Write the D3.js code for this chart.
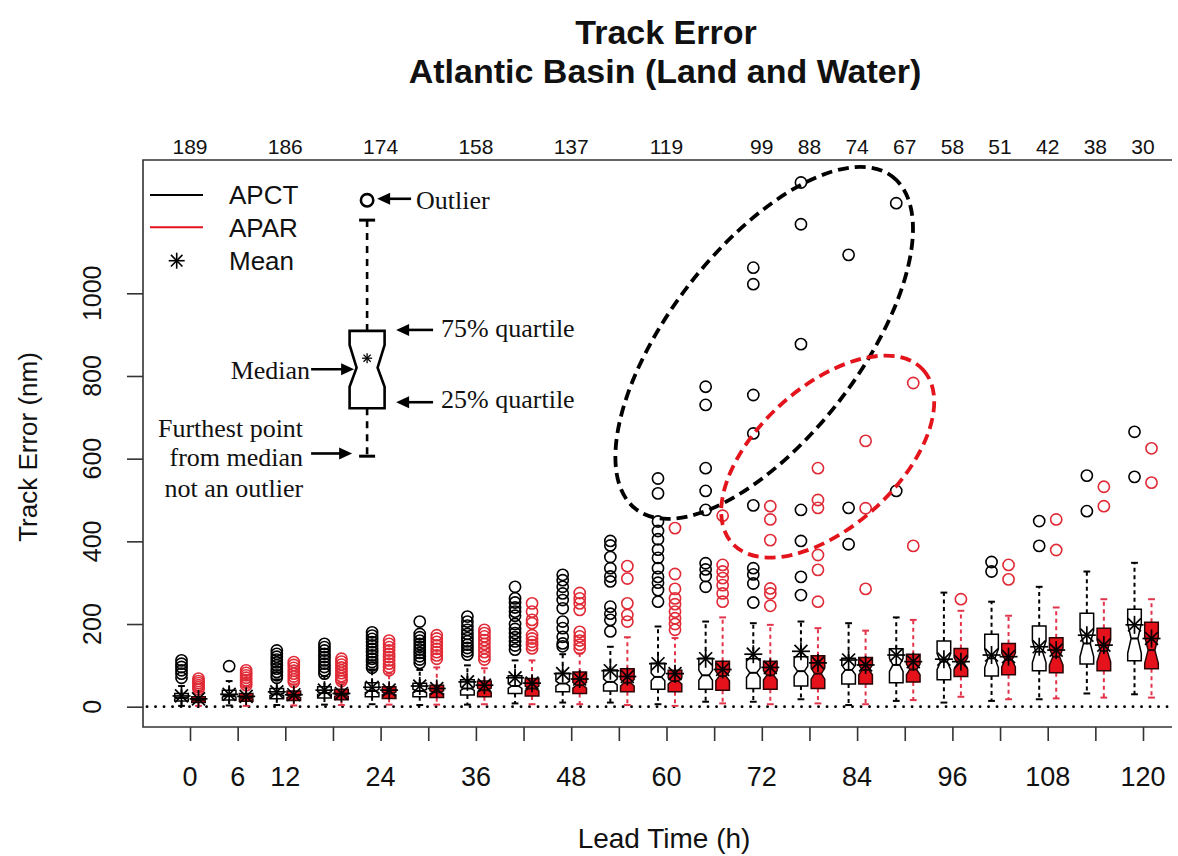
<!DOCTYPE html>
<html>
<head>
<meta charset="utf-8">
<script src="https://cdn.jsdelivr.net/npm/d3@7"></script>
<style>
  html, body { margin: 0; padding: 0; background: #fff; }
  svg { display: block; }
  text { font-family: "Liberation Sans", Arial, Helvetica, sans-serif; fill: #111; }
  text.serif { font-family: "Liberation Serif", "Times New Roman", serif; }
</style>
</head>
<body>
<svg id="chart" width="1178" height="856"></svg>
<script>
// ---- data -------------------------------------------------------------
const leadTimes = [0, 6, 12, 18, 24, 30, 36, 42, 48, 54, 60, 66, 72, 78, 84, 90, 96, 102, 108, 114, 120];
const xTickLabels = [0, 6, 12, 24, 36, 48, 60, 72, 84, 96, 108, 120];
const yTicks = [0, 200, 400, 600, 800, 1000];

// number of cases, printed along the top edge
const countLeads  = [0, 12, 24, 36, 48, 60, 72, 78, 84, 90, 96, 102, 108, 114, 120];
const countLabels = [189, 186, 174, 158, 137, 119, 99, 88, 74, 67, 58, 51, 42, 38, 30];

// APCT box statistics (nm)
const apctLow    = [2, 3, 4, 5, 6, 4, 5, 8, 10, 10, 6, 12, 12, 18, 4, 14, 10, 14, 18, 32, 30];
const apctQ1     = [14, 16, 19, 21, 24, 24, 28, 32, 36, 38, 42, 42, 44, 50, 55, 58, 65, 74, 87, 103, 111];
const apctMedian = [21, 26, 30, 33, 38, 38, 44, 50, 56, 60, 72, 76, 82, 86, 89, 101, 109, 117, 133, 153, 165];
const apctQ3     = [32, 40, 44, 48, 58, 57, 65, 75, 81, 89, 105, 117, 116, 121, 117, 140, 159, 175, 195, 226, 236];
const apctHigh   = [50, 62, 66, 74, 90, 89, 100, 112, 127, 145, 194, 206, 202, 206, 202, 216, 276, 254, 290, 327, 348];
const apctMean   = [26, 30, 36, 40, 47, 50, 60, 70, 80, 87, 104, 116, 127, 134, 113, 125, 115, 125, 145, 173, 198];
const apctOutliers = [
  [112, 104, 96, 88, 80, 70],
  [98],
  [136, 128, 121, 114, 107, 100, 92, 84, 76, 70],
  [152, 144, 136, 128, 120, 112, 104, 96, 88, 80],
  [180, 172, 164, 156, 148, 140, 132, 124, 116, 108, 100, 94],
  [206, 176, 168, 160, 152, 145, 138, 130, 122, 114, 106],
  [218, 206, 196, 186, 176, 166, 158, 150, 142, 134, 126],
  [290, 262, 252, 240, 230, 220, 200, 188, 178, 168, 158, 148, 138],
  [319, 306, 290, 274, 258, 238, 206, 190, 169, 153, 146],
  [401, 390, 362, 335, 315, 303, 242, 225, 210, 182],
  [552, 516, 448, 425, 405, 380, 360, 335, 314, 300, 282, 254],
  [774, 730, 577, 522, 476, 347, 332, 316, 290],
  [1062, 1022, 754, 661, 487, 335, 320, 298, 252],
  [1268, 1167, 877, 476, 401, 314, 270],
  [1093, 481, 393],
  [1218, 522],
  [],
  [350, 327],
  [449, 389],
  [559, 473],
  [665, 556]
];

// APAR box statistics (nm)
const aparLow    = [2, 2, 3, 4, 5, 5, 6, 6, 6, 4, 2, 8, 6, 8, 6, 16, 24, 18, 20, 22, 22];
const aparQ1     = [10, 13, 15, 17, 20, 22, 24, 26, 32, 36, 36, 40, 42, 44, 55, 60, 73, 77, 82, 87, 92];
const aparMedian = [16, 21, 25, 28, 32, 35, 40, 44, 52, 58, 62, 74, 76, 80, 89, 90, 105, 113, 121, 135, 137];
const aparQ3     = [24, 32, 38, 42, 48, 52, 62, 68, 84, 92, 88, 110, 110, 123, 119, 127, 141, 153, 167, 190, 204];
const aparHigh   = [38, 50, 54, 58, 80, 95, 93, 112, 129, 168, 166, 216, 198, 190, 184, 210, 232, 220, 240, 260, 260];
const aparMean   = [19, 25, 29, 32, 40, 44, 52, 57, 67, 73, 80, 90, 95, 106, 101, 109, 109, 121, 137, 149, 165];
const aparOutliers = [
  [68, 62, 57, 52, 47, 42],
  [88, 82, 76, 70, 64, 58, 52],
  [108, 101, 94, 87, 80, 73, 66, 60],
  [116, 109, 102, 95, 88, 81, 74, 67, 62],
  [160, 152, 144, 136, 128, 120, 112, 104, 96, 88],
  [173, 165, 157, 148, 140, 132, 124, 116],
  [186, 178, 170, 161, 152, 142, 132, 122, 114],
  [250, 230, 210, 202, 173, 165, 157, 149, 141],
  [275, 262, 250, 234, 181, 170, 160, 150, 141],
  [340, 310, 250, 222, 206],
  [432, 321, 285, 262, 248, 230, 214, 200, 186],
  [462, 343, 327, 311, 294, 274, 254],
  [485, 453, 403, 286, 274, 244],
  [577, 500, 481, 367, 331, 254],
  [643, 480, 285],
  [783, 389],
  [260],
  [343, 308],
  [453, 379],
  [532, 485],
  [625, 542]
];

// explanatory key box (nm), drawn at a lead time position
const keyBox = { lead: 22.3, outlier: 1225, high: 1177, q3: 909, notchTop: 875, median: 820, notchBottom: 774, q1: 722, low: 606, mean: 843 };

// highlighted clusters of large errors: centre (lead, nm), radii (px), tilt (deg)
const clusterRings = [
  { lead: 72.3, value: 880, rx: 210, ry: 95, tilt: -52.3, color: "#000" },
  { lead: 80.3, value: 605, rx: 129, ry: 70, tilt: -42.2, color: "#e3141c" }
];

// ---- styling ------------------------------------------------------------
const RED = "#e5121b";
const RED_LINE = "#e2344a";
const RED_RING = "#e02a36";

const svg = d3.select("#chart");
const frame = { left: 143, right: 1172, top: 160, bottom: 727 };

const x = d3.scaleLinear().domain([0, 120]).range([190, 1143]);
const y = d3.scaleLinear().domain([0, 1000]).range([706.7, 293.3]);

const series = [
  { name: "APCT", offset: -8.5, low: apctLow, q1: apctQ1, med: apctMedian, q3: apctQ3, high: apctHigh, mean: apctMean, out: apctOutliers,
    boxFill: "#fff", boxStroke: "#000", whisker: "#000", outColor: "#000" },
  { name: "APAR", offset: 8.5, low: aparLow, q1: aparQ1, med: aparMedian, q3: aparQ3, high: aparHigh, mean: aparMean, out: aparOutliers,
    boxFill: RED, boxStroke: "#2a0505", whisker: RED_LINE, outColor: RED_RING }
];

function sampleSize(lead) {
  let best = 0;
  countLeads.forEach((l, i) => {
    if (Math.abs(l - lead) < Math.abs(countLeads[best] - lead) ||
        (Math.abs(l - lead) === Math.abs(countLeads[best] - lead) && l > countLeads[best])) best = i;
  });
  return countLabels[best];
}

function notchedBox(cx, hw, q1, q3, med, notchLo, notchHi, frac) {
  const pts = [
    [cx - hw, y(q1)], [cx - hw, y(notchLo)], [cx - hw * frac, y(med)], [cx - hw, y(notchHi)], [cx - hw, y(q3)],
    [cx + hw, y(q3)], [cx + hw, y(notchHi)], [cx + hw * frac, y(med)], [cx + hw, y(notchLo)], [cx + hw, y(q1)]
  ];
  return "M" + pts.map(p => p.join(",")).join("L") + "Z";
}

function asterisk(g, cx, cy, r, color, width) {
  const d = r * 0.72;
  const segs = [[-r, 0, r, 0], [0, -r, 0, r], [-d, -d, d, d], [-d, d, d, -d]];
  g.selectAll(null).data(segs).enter().append("line")
    .attr("x1", s => cx + s[0]).attr("y1", s => cy + s[1])
    .attr("x2", s => cx + s[2]).attr("y2", s => cy + s[3])
    .attr("stroke", color).attr("stroke-width", width);
}

// ---- titles -------------------------------------------------------------
svg.append("text").attr("x", 666).attr("y", 44).attr("text-anchor", "middle")
  .attr("font-size", 34).attr("font-weight", "bold").text("Track Error");
svg.append("text").attr("x", 665).attr("y", 83).attr("text-anchor", "middle")
  .attr("font-size", 34).attr("font-weight", "bold").text("Atlantic Basin (Land and Water)");

// ---- frame and axes ------------------------------------------------------
const axisG = svg.append("g").attr("stroke", "#333").attr("stroke-width", 1.6).attr("fill", "none");
axisG.append("path").attr("d", `M${frame.right},${frame.top}H${frame.left}V${frame.bottom}H${frame.right}`);

const xAxis = d3.axisBottom(x).tickValues(leadTimes).tickSize(14).tickFormat(() => "");
svg.append("g").attr("transform", `translate(0,${frame.bottom})`).call(xAxis)
  .call(g => g.select(".domain").remove())
  .call(g => g.selectAll(".tick line").attr("stroke", "#333").attr("stroke-width", 1.6));
svg.append("g").selectAll("text").data(xTickLabels).enter().append("text")
  .attr("x", d => x(d)).attr("y", 786).attr("text-anchor", "middle").attr("font-size", 27).text(d => d);

const yAxis = d3.axisLeft(y).tickValues(yTicks).tickSize(16).tickFormat(() => "");
svg.append("g").attr("transform", `translate(${frame.left},0)`).call(yAxis)
  .call(g => g.select(".domain").remove())
  .call(g => g.selectAll(".tick line").attr("stroke", "#333").attr("stroke-width", 1.6));
svg.append("g").selectAll("text").data(yTicks).enter().append("text")
  .attr("transform", d => `translate(101,${y(d)}) rotate(-90)`)
  .attr("text-anchor", "middle").attr("font-size", 25).text(d => d);

svg.append("g").selectAll("text").data(countLeads).enter().append("text")
  .attr("x", d => x(d)).attr("y", 153.5).attr("text-anchor", "middle").attr("font-size", 21)
  .text((d, i) => countLabels[i]);

svg.append("text").attr("x", 664).attr("y", 848).attr("text-anchor", "middle")
  .attr("font-size", 28).text("Lead Time (h)");
svg.append("text").attr("transform", `translate(37,447) rotate(-90)`).attr("text-anchor", "middle")
  .attr("font-size", 26).text("Track Error (nm)");

// zero reference
svg.append("line").attr("x1", frame.left + 4).attr("x2", frame.right).attr("y1", y(0)).attr("y2", y(0))
  .attr("stroke", "#000").attr("stroke-width", 2.8).attr("stroke-linecap", "round")
  .attr("stroke-dasharray", "0.1,8.4");

// ---- box plots -------------------------------------------------------------
const HW = 6.8;
const plotG = svg.append("g");

series.forEach(s => {
  const g = plotG.append("g").attr("class", s.name);
  leadTimes.forEach((lead, i) => {
    const cx = x(lead) + s.offset;
    const n = sampleSize(lead);
    const notch = 1.58 * (s.q3[i] - s.q1[i]) / Math.sqrt(n);
    // whiskers
    [[s.q3[i], s.high[i]], [s.q1[i], s.low[i]]].forEach(([from, to]) => {
      g.append("line").attr("x1", cx).attr("x2", cx).attr("y1", y(from)).attr("y2", y(to))
        .attr("stroke", s.whisker).attr("stroke-width", 2).attr("stroke-dasharray", "4,3.5");
      g.append("line").attr("x1", cx - HW * 0.5).attr("x2", cx + HW * 0.5).attr("y1", y(to)).attr("y2", y(to))
        .attr("stroke", s.whisker).attr("stroke-width", 2);
    });
    // notched box
    g.append("path")
      .attr("d", notchedBox(cx, HW, s.q1[i], s.q3[i], s.med[i], s.med[i] - notch, s.med[i] + notch, 0.5))
      .attr("fill", s.boxFill).attr("stroke", s.boxStroke).attr("stroke-width", 1.5);
    g.append("line").attr("x1", cx - HW * 0.5).attr("x2", cx + HW * 0.5)
      .attr("y1", y(s.med[i])).attr("y2", y(s.med[i]))
      .attr("stroke", s.boxStroke).attr("stroke-width", 2);
    // outliers
    g.selectAll(null).data(s.out[i]).enter().append("circle")
      .attr("cx", cx).attr("cy", v => y(v)).attr("r", 5.6)
      .attr("fill", "none").attr("stroke", s.outColor).attr("stroke-width", 1.6);
  });
});

// means
series.forEach(s => {
  leadTimes.forEach((lead, i) => {
    asterisk(plotG, x(lead) + s.offset, y(s.mean[i]), 9, "#000", 1.7);
  });
});

// ---- highlighted clusters ---------------------------------------------------
svg.append("g").selectAll("ellipse").data(clusterRings).enter().append("ellipse")
  .attr("transform", d => `translate(${x(d.lead)},${y(d.value)}) rotate(${d.tilt})`)
  .attr("rx", d => d.rx).attr("ry", d => d.ry)
  .attr("fill", "none").attr("stroke", d => d.color).attr("stroke-width", 3.8)
  .attr("stroke-dasharray", "11,6");

// ---- legend ----------------------------------------------------------------
const legend = svg.append("g");
const legendRows = [
  { label: "APCT", kind: "line", color: "#000", y: 195 },
  { label: "APAR", kind: "line", color: RED, y: 227.3 },
  { label: "Mean", kind: "star", color: "#000", y: 260.7 }
];
legendRows.forEach(r => {
  if (r.kind === "line") {
    legend.append("line").attr("x1", 150).attr("x2", 203).attr("y1", r.y).attr("y2", r.y)
      .attr("stroke", r.color).attr("stroke-width", 2);
  } else {
    asterisk(legend, 176.7, r.y, 8, r.color, 1.6);
  }
  legend.append("text").attr("x", 229).attr("y", r.y + 9.3).attr("font-size", 26).text(r.label);
});

// ---- key box with callouts -------------------------------------------------
const key = svg.append("g");
const kx = x(keyBox.lead);
const KHW = 17.5;
key.append("circle").attr("cx", kx).attr("cy", y(keyBox.outlier)).attr("r", 6.2)
  .attr("fill", "none").attr("stroke", "#000").attr("stroke-width", 2.6);
[[keyBox.q3, keyBox.high], [keyBox.q1, keyBox.low]].forEach(([from, to]) => {
  key.append("line").attr("x1", kx).attr("x2", kx).attr("y1", y(from)).attr("y2", y(to))
    .attr("stroke", "#000").attr("stroke-width", 2.6).attr("stroke-dasharray", "7,6");
  key.append("line").attr("x1", kx - 8).attr("x2", kx + 8).attr("y1", y(to)).attr("y2", y(to))
    .attr("stroke", "#000").attr("stroke-width", 3);
});
key.append("path")
  .attr("d", notchedBox(kx, KHW, keyBox.q1, keyBox.q3, keyBox.median, keyBox.notchBottom, keyBox.notchTop, 0.6))
  .attr("fill", "#fff").attr("stroke", "#000").attr("stroke-width", 2.6);
asterisk(key, kx, y(keyBox.mean), 5, "#000", 1.3);

function arrow(x1, y1, x2, y2) {
  const dir = Math.sign(x2 - x1);
  key.append("line").attr("x1", x1).attr("y1", y1).attr("x2", x2 - dir * 10).attr("y2", y2)
    .attr("stroke", "#000").attr("stroke-width", 2.6);
  key.append("path")
    .attr("d", `M${x2},${y2}L${x2 - dir * 13},${y2 - 6}L${x2 - dir * 13},${y2 + 6}Z`)
    .attr("fill", "#000");
}
function note(tx, ty, anchor, str) {
  key.append("text").attr("class", "serif").attr("x", tx).attr("y", ty)
    .attr("text-anchor", anchor).attr("font-size", 26).text(str);
}

const yOut = y(keyBox.outlier), yQ3 = y(keyBox.q3), yQ1 = y(keyBox.q1), yMed = y(keyBox.median), yLow = y(keyBox.low);
arrow(kx + 44, yOut - 1.5, kx + 10, yOut - 1.5);
note(kx + 49, yOut + 8.3, "start", "Outlier");
arrow(kx + 66, yQ3 - 1, kx + 29, yQ3 - 1);
note(kx + 74, yQ3 + 6, "start", "75% quartile");
arrow(kx + 66, yQ1 - 6, kx + 29, yQ1 - 6);
note(kx + 74, yQ1 - 0.5, "start", "25% quartile");
arrow(kx - 56, yMed + 1.5, kx - 13, yMed + 1.5);
note(kx - 57, yMed + 11.5, "end", "Median");
arrow(kx - 56, yLow - 2.7, kx - 15, yLow - 2.7);
note(kx - 64, yLow - 19, "end", "Furthest point");
note(kx - 64, yLow + 9.5, "end", "from median");
note(kx - 64, yLow + 41, "end", "not an outlier");
</script>
</body>
</html>
